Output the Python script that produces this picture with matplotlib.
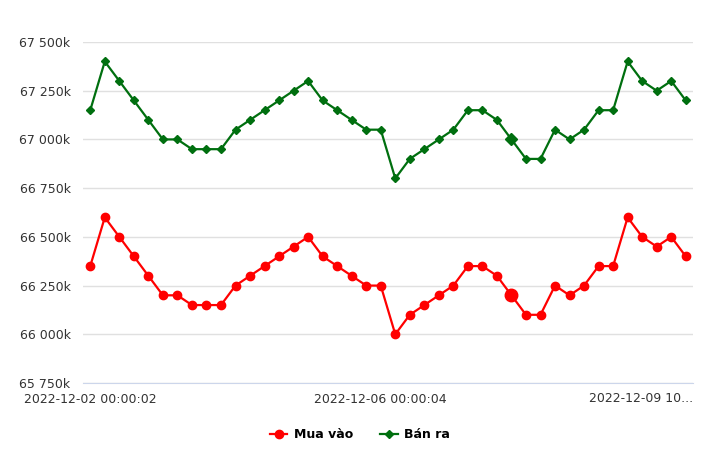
import matplotlib
matplotlib.use("Agg")
import matplotlib.pyplot as plt
from matplotlib.ticker import FuncFormatter

mua_vao = [66350, 66600, 66500, 66400, 66300, 66200, 66200, 66150, 66150, 66150,
           66250, 66300, 66350, 66400, 66450, 66500, 66400, 66350, 66300, 66250,
           66250, 66000, 66100, 66150, 66200, 66250, 66350, 66350, 66300, 66200,
           66100, 66100, 66250, 66200, 66250, 66350, 66350, 66600, 66500, 66450,
           66500, 66400]
ban_ra = [67150, 67400, 67300, 67200, 67100, 67000, 67000, 66950, 66950, 66950,
          67050, 67100, 67150, 67200, 67250, 67300, 67200, 67150, 67100, 67050,
          67050, 66800, 66900, 66950, 67000, 67050, 67150, 67150, 67100, 67000,
          66900, 66900, 67050, 67000, 67050, 67150, 67150, 67400, 67300, 67250,
          67300, 67200]
x_tick_idx = [0, 20]
x_tick_labels = ["2022-12-02 00:00:02", "2022-12-06 00:00:04"]
last_label = "2022-12-09 10..."
y_ticks = [65750, 66000, 66250, 66500, 66750, 67000, 67250, 67500]
highlight = 29

RED = "#ff0000"
GREEN = "#006f0f"

fig = plt.figure(figsize=(7.2, 4.69), dpi=100)
ax = fig.add_axes([83/720, 1-383/469, 610/720, 341/469])

xs = list(range(len(mua_vao)))
ax.plot(xs, mua_vao, color=RED, lw=1.6, marker="o", ms=6, label="Mua vào", zorder=3)
ax.plot(xs, ban_ra, color=GREEN, lw=1.6, marker="D", ms=4.3, label="Bán ra", zorder=3)
ax.plot([highlight], [mua_vao[highlight]], color=RED, marker="o", ms=9, ls="none", zorder=4)
ax.plot([highlight], [ban_ra[highlight]], color=GREEN, marker="D", ms=6.5, ls="none", zorder=4)

ax.set_xlim(-0.5, len(mua_vao) - 0.5)
ax.set_ylim(y_ticks[0], y_ticks[-1])
ax.set_yticks(y_ticks)
ax.yaxis.set_major_formatter(FuncFormatter(lambda v, p: f"{int(v/1000)} {int(v%1000):03d}k"))
ax.set_xticks(x_tick_idx)
ax.set_xticklabels(x_tick_labels)
ax.text(1.0, -0.027, last_label, transform=ax.transAxes, ha="right", va="top",
        fontsize=9, color="#333333")

ax.grid(axis="y", color="#e0e0e0", lw=1)
ax.set_axisbelow(True)
for s in ["top", "right", "left"]:
    ax.spines[s].set_visible(False)
ax.spines["bottom"].set_color("#ccd6eb")
ax.spines["bottom"].set_zorder(1)
ax.tick_params(axis="y", length=0, pad=9, labelsize=9, labelcolor="#333333")
ax.tick_params(axis="x", length=0, pad=7, labelsize=9, labelcolor="#333333")

fig.legend(loc="center", bbox_to_anchor=(0.5, 1-435/469), ncol=2, frameon=False,
           prop={"weight": "bold", "size": 9}, handlelength=1.4, columnspacing=2.2,
           handletextpad=0.5)

fig.savefig("out.png", dpi=100, facecolor="white")
